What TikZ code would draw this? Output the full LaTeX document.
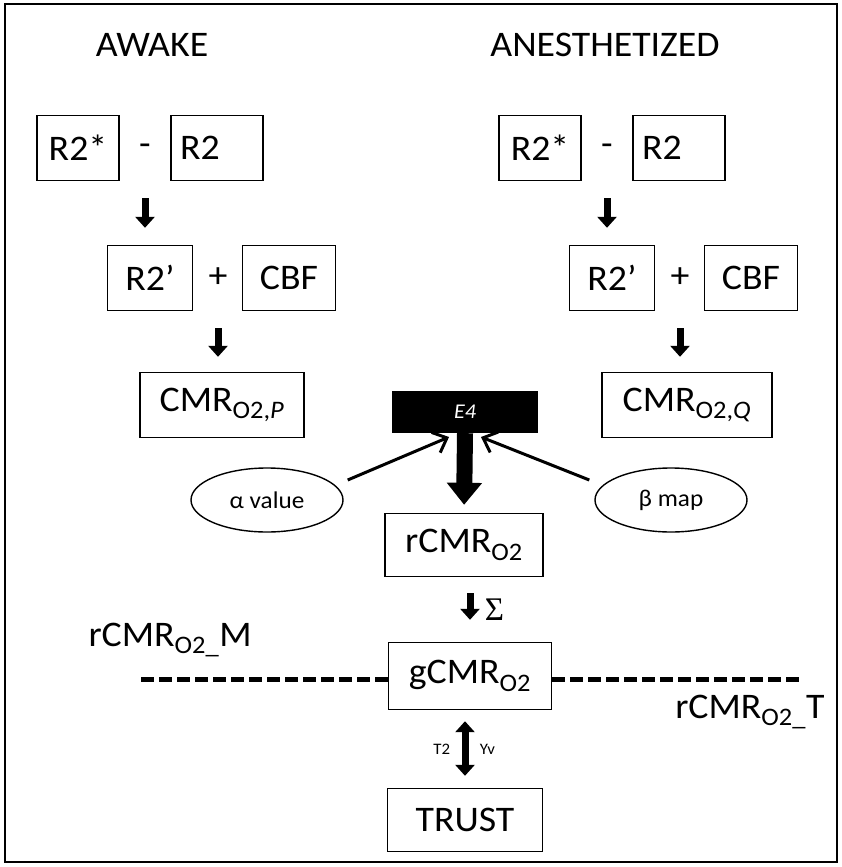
\documentclass[tikz,border=0pt]{standalone}
\usepackage{fontspec}
\setmainfont{Carlito}[FakeStretch=1.05]
\newfontfamily\serifsym{Liberation Serif}
\usetikzlibrary{arrows.meta,shapes.geometric}

\begin{document}
\begin{tikzpicture}[x=1pt, y=-1pt,
    box/.style={rectangle, draw, line width=1.4pt, minimum height=65pt, inner sep=0pt, font=\fontsize{36}{39}\selectfont},
    sign/.style={font=\fontsize{36}{39}\selectfont},
    head/.style={font=\fontsize{36}{40}\selectfont},
    oval/.style={ellipse, draw, line width=1.4pt, minimum width=152pt, minimum height=64pt, inner sep=0pt, font=\fontsize{24}{26}\selectfont},
    fat/.style={line width=7pt, -{Triangle[width=19pt,length=11pt]}},
    barb/.style={line width=3pt, -{Straight Barb[width=22pt,length=12pt]}},
    dashline/.style={line width=5pt, dash pattern=on 13pt off 5pt}]
    \useasboundingbox (0,0) rectangle (842,867);
    \draw[line width=2pt] (5,4) rectangle (837,862);

    % Titles
    \node[head] (AWAKE) at (152,45) {AWAKE};
    \node[head] (ANES) at (605,45) {ANESTHETIZED};

    % Awake column
    \node[box, minimum width=82pt] (R2SL) at (78,148) {R2*};
    \node[sign] (MINUSL) at (145,150) {-};
    \node[box, minimum width=92pt, text width=74pt, inner xsep=9pt, align=left] (R2L) at (217,148) {R2};
    \node[box, minimum width=85pt] (R2PL) at (150,278) {R2’};
    \node[sign] (PLUSL) at (218,278) {+};
    \node[box, minimum width=93pt] (CBFL) at (289,278) {CBF};
    \node[box, minimum width=164pt] (CMRL) at (222,405) {CMR\textsubscript{O2,\textit{P}}};

    % Anesthetized column
    \node[box, minimum width=82pt] (R2SR) at (540,148) {R2*};
    \node[sign] (MINUSR) at (607,150) {-};
    \node[box, minimum width=92pt, text width=74pt, inner xsep=9pt, align=left] (R2R) at (679,148) {R2};
    \node[box, minimum width=85pt] (R2PR) at (612,278) {R2’};
    \node[sign] (PLUSR) at (680,278) {+};
    \node[box, minimum width=93pt] (CBFR) at (751,278) {CBF};
    \node[box, minimum width=170pt] (CMRR) at (687,405) {CMR\textsubscript{O2,\textit{Q}}};

    \draw[fat, shorten <=48pt, shorten >=17pt] (MINUSL.center) -- (MINUSL.center |- R2PL.north);
    \draw[fat, shorten <=50pt, shorten >=15pt] (PLUSL.center) -- (PLUSL.center |- CMRL.north);
    \draw[fat, shorten <=48pt, shorten >=17pt] (MINUSR.center) -- (MINUSR.center |- R2PR.north);
    \draw[fat, shorten <=50pt, shorten >=15pt] (PLUSR.center) -- (PLUSR.center |- CMRR.north);

    % Combination
    \node[rectangle, fill=black, minimum width=146pt, minimum height=42pt, text=white, font=\fontsize{21}{23}\selectfont\itshape] (E4) at (465,412) {E4};
    \node[box, minimum width=158pt, minimum height=63pt] (RCMR) at (464,545) {rCMR\textsubscript{O2}};
    \draw[line width=16pt, -{Triangle[width=34pt,length=22pt]}, shorten >=8pt] (E4.south) -- (RCMR.north);

    \node[oval] (ALPHA) at (267,500) {α value};
    \node[oval] (BETA) at (671,500) {β map};
    \coordinate (AIN) at (449,437);
    \coordinate (BIN) at (481,437);
    \draw[barb] ([xshift=4pt,yshift=20pt]ALPHA.east) -- (AIN);
    \draw[barb] ([xshift=-5pt,yshift=20pt]BETA.west) -- (BIN);

    % Global value
    \node[box, minimum width=163pt, minimum height=67pt] (GCMR) at (470,676) {gCMR\textsubscript{O2}};
    \draw[fat, shorten <=16pt, shorten >=22pt] (RCMR.south -| GCMR.north) -- (GCMR.north)
        node[midway, right=8pt, font=\fontsize{33}{35}\selectfont\serifsym] {Σ};
    \coordinate (DL) at (141,679);
    \coordinate (DR) at (799,679);
    \draw[dashline] (DL) -- (GCMR.west |- DL);
    \draw[dashline] (GCMR.east |- DR) -- (DR);
    \node[sign, anchor=west] (MLAB) at (85,640) {rCMR\textsubscript{O2\_}M};
    \node[sign, anchor=east] (TLAB) at (828,712) {rCMR\textsubscript{O2\_}T};

    % Validation
    \node[box, minimum width=155pt, minimum height=63pt] (TRUST) at (465,820) {TRUST};
    \draw[line width=7pt, {Triangle[width=19pt,length=11pt]}-{Triangle[width=19pt,length=11pt]}, shorten <=11pt, shorten >=12pt] (GCMR.south -| TRUST.north) -- (TRUST.north)
        node[midway, left=8pt, font=\fontsize{16}{18}\selectfont] {T2}
        node[midway, right=8pt, font=\fontsize{16}{18}\selectfont] {Yv};
\end{tikzpicture}
\end{document}
